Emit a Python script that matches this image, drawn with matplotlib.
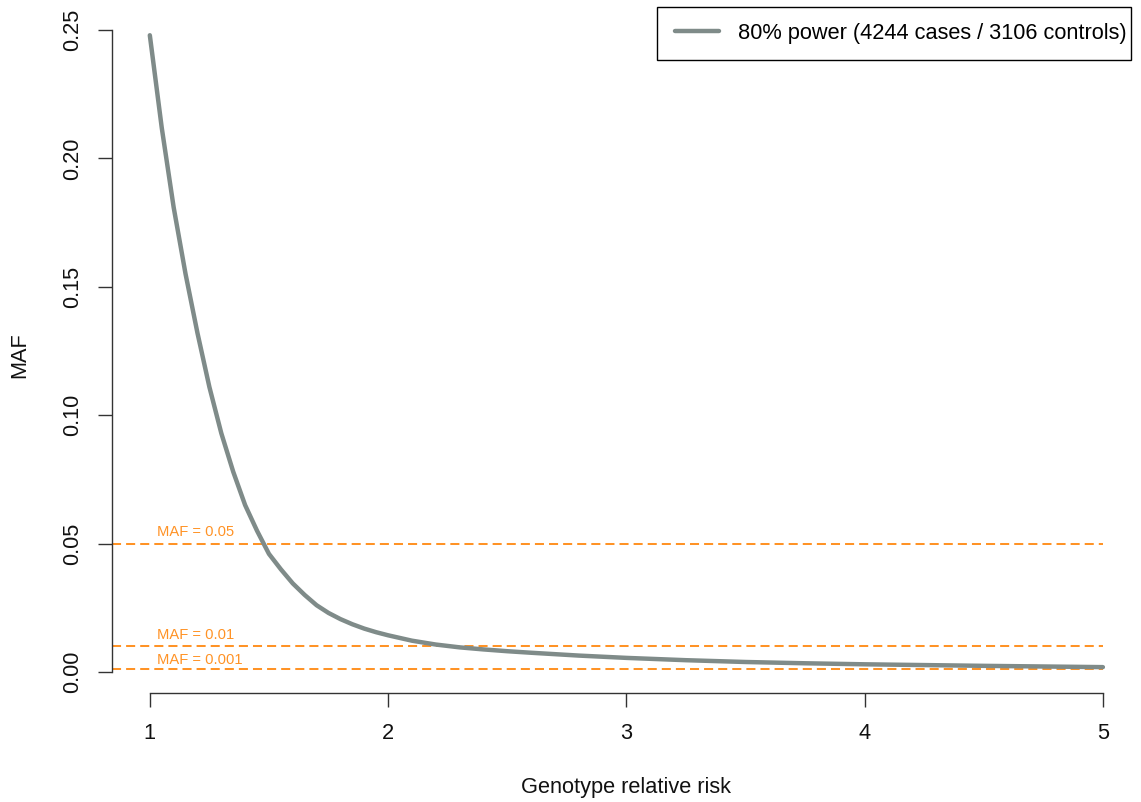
import matplotlib
matplotlib.use("Agg")
import matplotlib.pyplot as plt
from matplotlib.path import Path
from matplotlib.legend_handler import HandlerLine2D

# ─── DATA ──────────────────────────────────────────────────────────────────────
relative_risk = [1.00, 1.05, 1.10, 1.15, 1.20, 1.25, 1.30, 1.35, 1.40, 1.45,
                 1.50, 1.55, 1.60, 1.65, 1.70, 1.75, 1.80, 1.85, 1.90, 1.95,
                 2.00, 2.10, 2.20, 2.30, 2.40, 2.50, 2.60, 2.80, 3.00, 3.25,
                 3.50, 3.75, 4.00, 4.50, 5.00]
maf_80_power = [0.248, 0.212, 0.181, 0.155, 0.132, 0.111, 0.093, 0.078, 0.065, 0.055,
                0.046, 0.0400, 0.0345, 0.0300, 0.0260, 0.0230, 0.0206, 0.0186, 0.0169, 0.0155,
                0.0143, 0.0122, 0.0107, 0.0096, 0.0088, 0.0081, 0.0075, 0.0064, 0.0055, 0.0046,
                0.0039, 0.0034, 0.0030, 0.0024, 0.0019]
maf_thresholds = [0.05, 0.01, 0.001]
threshold_labels = ["MAF = 0.05", "MAF = 0.01", "MAF = 0.001"]
legend_label = "80% power (4244 cases / 3106 controls)"
x_ticks = [1, 2, 3, 4, 5]
y_ticks = [0.00, 0.05, 0.10, 0.15, 0.20, 0.25]
y_tick_labels = ["0.00", "0.05", "0.10", "0.15", "0.20", "0.25"]

# ─── STYLE ─────────────────────────────────────────────────────────────────────
CURVE_COLOR = "#7f8b89"
ORANGE = "#ff9326"
AXIS_COLOR = "#333333"
FS = 15.7
label_offsets_pt = [5.3, 5.3, 3.6]
LEG_VPAD = 0.53        # extra vertical frame padding, in font sizes
LEG_LEAD = 0.236       # empty share at the left of the legend handle


class InsetLineHandler(HandlerLine2D):
    """Legend line that leaves some blank room on its left, like R's legend()."""
    def get_xdata(self, legend, xdescent, ydescent, width, height, fontsize):
        xdata, xdata_marker = super().get_xdata(legend, xdescent, ydescent,
                                                width, height, fontsize)
        return [xdata[0] + LEG_LEAD * width, xdata[-1]], xdata_marker


def tall_square(x0, y0, width, height, mutation_size):
    """Square frame, padded only vertically."""
    pad = LEG_VPAD * mutation_size
    y0, y1 = y0 - pad, y0 + height + pad
    x1 = x0 + width
    return Path([(x0, y0), (x1, y0), (x1, y1), (x0, y1), (x0, y0)], closed=True)


plt.rcParams["font.family"] = ["Liberation Sans", "DejaVu Sans"]

W, H = 1141, 802
fig = plt.figure(figsize=(W / 100, H / 100), dpi=100)
left_px, right_px, top_px, bottom_px = 111.7, 1131, 7, 692.7
ax = fig.add_axes([left_px / W, 1 - bottom_px / H,
                   (right_px - left_px) / W, (bottom_px - top_px) / H])

curve, = ax.plot(relative_risk, maf_80_power, color=CURVE_COLOR, lw=3.2,
                 solid_capstyle="round", solid_joinstyle="round",
                 label=legend_label, zorder=3)

ax.set_xlim(0.84, 5.118)
ax.set_ylim(-0.00806, 0.259)

x0 = ax.get_xlim()[0]
for val, lab, off in zip(maf_thresholds, threshold_labels, label_offsets_pt):
    ax.hlines(val, x0, relative_risk[-1], colors=ORANGE, lw=1.45,
              linestyles=(0, (4.5, 2.5)), zorder=2)
    ax.annotate(lab, xy=(1.03, val), xytext=(0, off), textcoords="offset points",
                color=ORANGE, fontsize=10.6, ha="left", va="baseline")

# R-style detached axes
for side in ["top", "right"]:
    ax.spines[side].set_visible(False)
ax.spines["left"].set_bounds(y_ticks[0], y_ticks[-1])
ax.spines["bottom"].set_bounds(x_ticks[0], x_ticks[-1])
for side in ["left", "bottom"]:
    ax.spines[side].set_color(AXIS_COLOR)
    ax.spines[side].set_linewidth(1.0)

ax.set_xticks(x_ticks)
ax.set_xticklabels([str(t) for t in x_ticks])
ax.set_yticks(y_ticks)
ax.set_yticklabels(y_tick_labels, rotation=90, va="center")
ax.tick_params(axis="both", direction="out", length=10, width=1.0,
               color=AXIS_COLOR, labelsize=FS, labelcolor="#111111")
ax.tick_params(axis="x", pad=12.0)
ax.tick_params(axis="y", pad=10.5)

ax.set_xlabel("Genotype relative risk", fontsize=FS, va="center", color="#111111")
ax.xaxis.set_label_coords(0.5045, -(787 - bottom_px) / (bottom_px - top_px))
ax.set_ylabel("MAF", fontsize=FS, va="center", color="#111111")
ax.yaxis.set_label_coords((20 - left_px) / (right_px - left_px), 0.492)

fs_px = FS * 100 / 72
leg = ax.legend(handles=[curve], handler_map={curve: InsetLineHandler()},
                loc="upper right", fontsize=FS, frameon=True, fancybox=False,
                framealpha=1, edgecolor="black", handlelength=2.64,
                handletextpad=0.87, borderpad=0.2, borderaxespad=0,
                bbox_to_anchor=(1.0, 1.0 - LEG_VPAD * fs_px / (bottom_px - top_px)))
leg.get_frame().set_linewidth(1.0)
leg.get_frame().set_boxstyle(tall_square)

fig.savefig("out.png", dpi=100)
